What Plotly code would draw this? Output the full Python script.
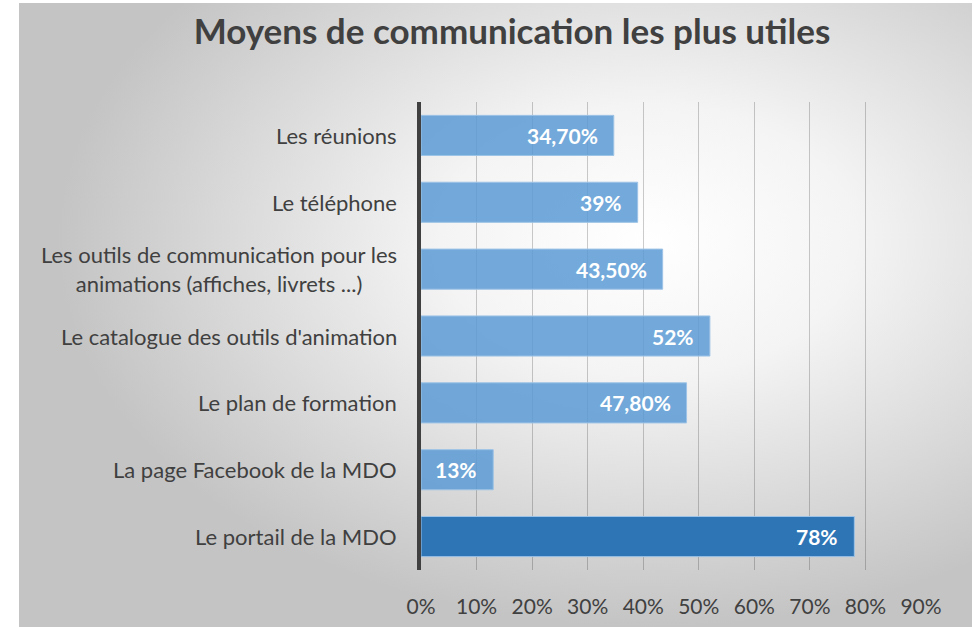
import base64
import plotly.graph_objects as go

# data (top to bottom as shown)
categories = [
    "Les réunions",
    "Le téléphone",
    "Les outils de communication pour les<br>animations (affiches, livrets ...)",
    "Le catalogue des outils d'animation",
    "Le plan de formation",
    "La page Facebook de la MDO",
    "Le portail de la MDO",
]
values = [0.347, 0.39, 0.435, 0.52, 0.478, 0.13, 0.78]
value_labels = ["34,70%", "39%", "43,50%", "52%", "47,80%", "13%", "78%"]
tick_vals = [0, 0.1, 0.2, 0.3, 0.4, 0.5, 0.6, 0.7, 0.8, 0.9]

W, H = 974, 627
FONT = "Lato"
TXT = "#404040"

bar_colors = ["rgba(91,155,213,0.85)"] * 6 + ["#2e75b6"]

# radial grey background as an svg image
svg = """<svg xmlns='http://www.w3.org/2000/svg' width='953' height='624' viewBox='0 0 953 624' preserveAspectRatio='none'>
<defs><radialGradient id='g' cx='0.66' cy='0.38' r='0.62' fx='0.66' fy='0.38'>
<stop offset='0' stop-color='#ffffff'/><stop offset='0.35' stop-color='#f4f4f4'/>
<stop offset='1' stop-color='#c4c4c4'/></radialGradient></defs>
<rect width='953' height='624' fill='url(#g)'/></svg>"""
bg_src = "data:image/svg+xml;base64," + base64.b64encode(svg.encode()).decode()

fig = go.Figure()
fig.add_trace(go.Bar(
    y=categories, x=values, orientation="h",
    width=0.6,
    marker=dict(color=bar_colors, line=dict(color="#9dc3e6", width=1)),
    hoverinfo="skip",
))

# category labels centred like the original
for c in categories:
    fig.add_annotation(
        x=0, y=c, xref="x", yref="y", xanchor="right", xshift=-22,
        text=c, showarrow=False, align="center",
        font=dict(family=FONT, size=22, color=TXT),
    )

# value labels inside the bar ends
for c, v, lab in zip(categories, values, value_labels):
    fig.add_annotation(
        x=v, y=c, xref="x", yref="y", xanchor="right", xshift=-14,
        text="<b>" + lab + "</b>", showarrow=False,
        font=dict(family=FONT, size=21, color="white"),
    )

fig.add_layout_image(
    source=bg_src, xref="paper", yref="paper",
    x=19 / W, y=1 - 3 / H, sizex=953 / W, sizey=624 / H,
    xanchor="left", yanchor="top", sizing="stretch", layer="below",
)

fig.update_layout(
    width=W, height=H, autosize=False,
    margin=dict(l=0, r=0, t=0, b=0, pad=0),
    paper_bgcolor="white", plot_bgcolor="rgba(0,0,0,0)",
    showlegend=False,
    title=dict(text="<b>Moyens de communication les plus utiles</b>",
               x=512 / W, xanchor="center", y=1 - 32 / H, yanchor="middle",
               font=dict(family=FONT, size=35, color=TXT)),
    xaxis=dict(domain=[421 / W, 921 / W], range=[0, 0.9], automargin=False,
               tickvals=tick_vals, tickformat=".0%",
               showgrid=True, gridcolor="rgba(0,0,0,0.2)", gridwidth=1,
               zeroline=False, showline=False, ticks="",
               ticklabelstandoff=22,
               tickfont=dict(family=FONT, size=21, color=TXT)),
    yaxis=dict(domain=[1 - 570 / H, 1 - 102 / H], autorange="reversed",
               automargin=False,
               showticklabels=False, showgrid=False,
               showline=True, linecolor="#404040", linewidth=4,
               ticks=""),
)

fig.write_html("out.html", config={"displayModeBar": False},
               post_script="document.body.style.margin='0';")
